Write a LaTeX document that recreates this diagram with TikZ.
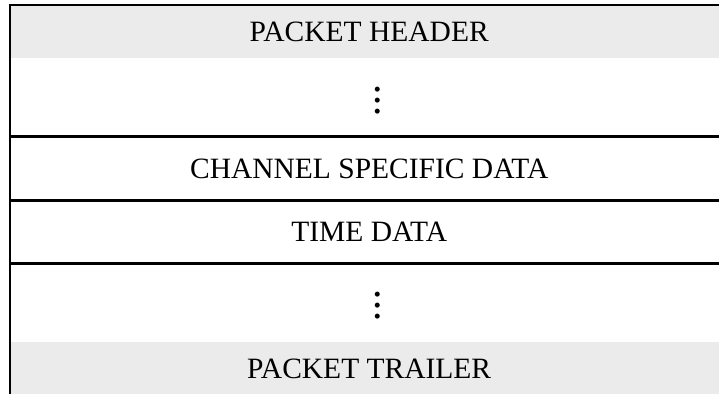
\documentclass[tikz,border=0pt]{standalone}
\usepackage{fontspec}
\setmainfont{Liberation Serif}
\usetikzlibrary{positioning}
\definecolor{bandgray}{HTML}{EBEBEB}
\newcommand{\bigvdots}{\vbox{\baselineskip=11pt\lineskiplimit=-30pt\hbox{.}\hbox{.}\hbox{.}}}
\tikzset{
  row/.style={minimum width=718pt, minimum height=#1, inner sep=0pt,
    font=\fontsize{29.5}{34}\selectfont},
  band/.style={row=#1, fill=bandgray},
  rule/.style={line width=2.7pt},
  dotmark/.style={inner sep=0pt, font=\fontsize{42}{42}\selectfont},
}

\begin{document}
\begin{tikzpicture}[x=1pt, y=-1pt, node distance=0pt]
  \useasboundingbox (0,0) rectangle (719,393);
  % Rows of the packet
  \node[band=53pt, anchor=north west] (header) at (10,5) {PACKET HEADER};
  \node[row=78pt, below=of header] (gapA) {};
  \node[row=63pt, below=of gapA] (chan) {CHANNEL SPECIFIC DATA};
  \node[row=63pt, below=of chan] (time) {TIME DATA};
  \node[row=78pt, below=of time] (gapB) {};
  \node[band=53pt, below=of gapB] (trailer) {PACKET TRAILER};

  % Ellipses
  \node[dotmark] (dotsA) at ([xshift=9pt,yshift=-3pt]gapA.center) {\bigvdots};
  \node[dotmark] (dotsB) at ([xshift=9pt,yshift=-3pt]gapB.center) {\bigvdots};

  % Rules
  \draw[rule] ([xshift=-1.35pt]header.north west) -- (header.north east);
  \draw[rule] (gapA.south west) -- (gapA.south east);
  \draw[rule] (chan.south west) -- (chan.south east);
  \draw[rule] (time.south west) -- (time.south east);
  \draw[rule] (header.north west) -- (trailer.south west);
\end{tikzpicture}
\end{document}
